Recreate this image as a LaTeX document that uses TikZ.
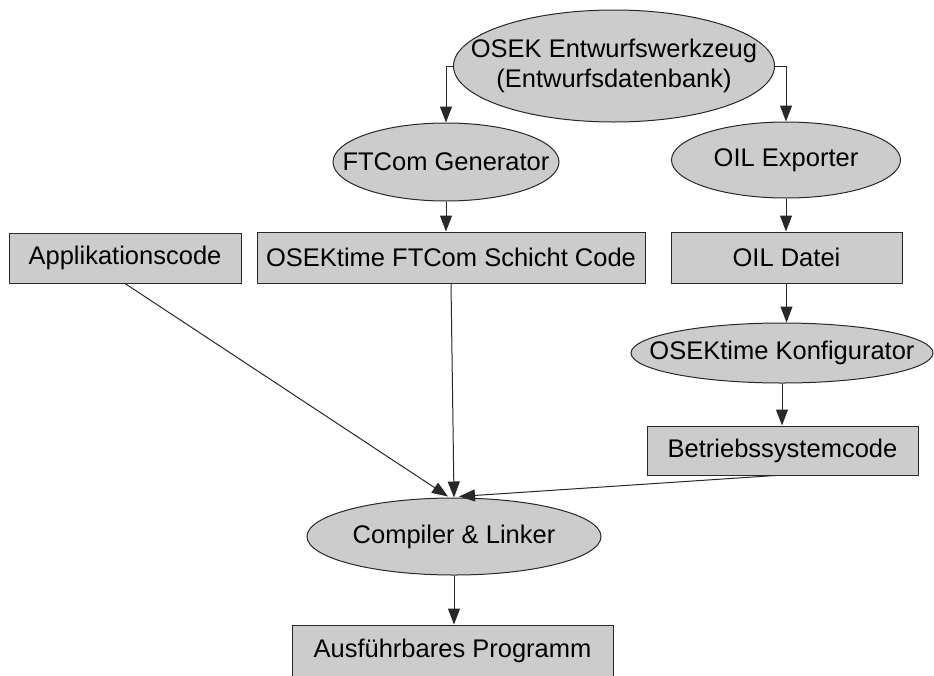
\documentclass[tikz,border=0pt]{standalone}
\usepackage{fontspec}
\setmainfont{Liberation Sans}
\usetikzlibrary{shapes.geometric,arrows.meta}
\definecolor{boxfill}{RGB}{204,204,204}
\definecolor{edgecol}{RGB}{40,40,40}
\begin{document}
\begin{tikzpicture}[x=1pt,y=-1pt,
  every node/.style={font=\fontsize{25.5}{30}\selectfont, text=black, inner sep=0pt, align=center},
  % ellipses keep their given size; the text sits on top as a centred label
  blob/.style={ellipse, draw=edgecol, fill=boxfill, line width=1pt, label={center:#1}},
  card/.style={rectangle, draw=edgecol, fill=boxfill, line width=1pt},
  link/.style={draw=edgecol, line width=1pt, -{Triangle[width=12pt,length=16pt]}}]
  \useasboundingbox (0,0) rectangle (934,675);

  % design tool and generators
  \node[blob={OSEK Entwurfswerkzeug\\(Entwurfsdatenbank)}, minimum width=321pt, minimum height=112pt] (tool) at (614,66) {};
  \node[blob={FTCom Generator}, minimum width=226pt, minimum height=78pt] (ftc) at (446,162) {};
  \node[blob={OIL Exporter}, minimum width=229pt, minimum height=76pt] (oil) at (786,160) {};

  % generated artefacts
  \node[card, minimum width=232pt, minimum height=50pt] (app) at (125,258) {Applikationscode};
  \node[card, minimum width=388pt, minimum height=51pt] (fsc) at (451,257.5) {OSEKtime FTCom Schicht Code};
  \node[card, minimum width=231pt, minimum height=51pt] (oild) at (786.5,257.5) {OIL Datei};
  \node[blob={OSEKtime Konfigurator}, minimum width=302pt, minimum height=60pt] (konf) at (782,353) {};
  \node[card, minimum width=271pt, minimum height=49pt] (bs) at (782.5,450.5) {Betriebssystemcode};

  % build
  \node[blob={Compiler \& Linker}, minimum width=294pt, minimum height=77pt] (cl) at (454,536.5) {};
  \node[card, minimum width=321pt, minimum height=52pt] (aus) at (452.5,651) {Ausführbares Programm};

  % connectors
  \draw[link] (tool.west) -| (ftc.north);
  \draw[link] (tool.east) -| (oil.north);
  \draw[link] (ftc.south) -- (ftc.south |- fsc.north);
  \draw[link] (oil.south) -- (oil.south |- oild.north);
  \draw[link] (oild.south) -- (oild.south |- konf.north);
  \draw[link] (konf.south) -- (konf.south |- bs.north);
  \draw[link] (app.south) -- ([xshift=-6pt,yshift=1pt]cl.north);
  \draw[link] (fsc.south) -- (cl.north);
  \draw[link] ([xshift=-7pt]bs.south) -- ([xshift=5pt,yshift=1pt]cl.north);
  \draw[link] (cl.south) -- (cl.south |- aus.north);
\end{tikzpicture}
\end{document}
